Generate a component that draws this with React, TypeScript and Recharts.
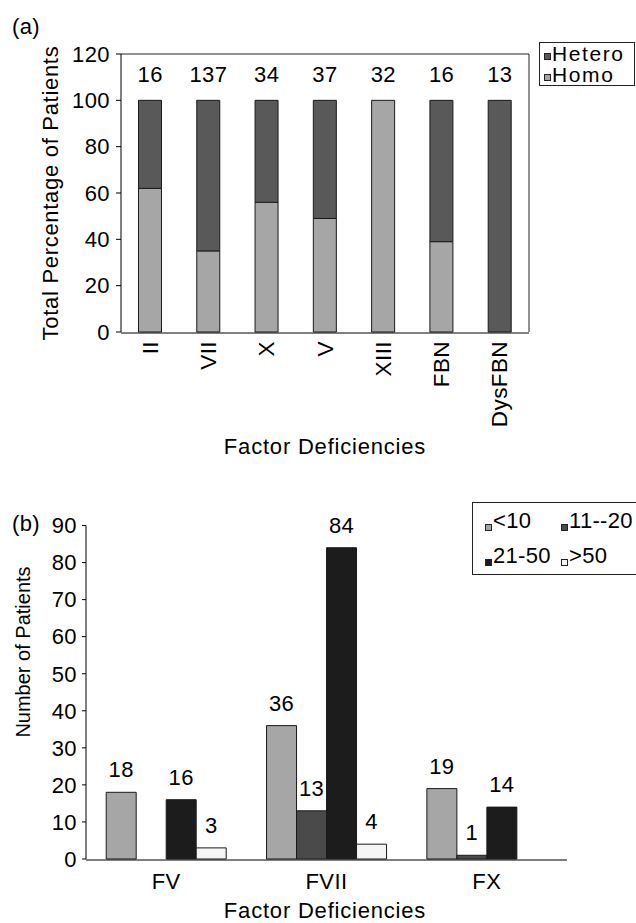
import { ComposedChart, BarChart, Bar, Line, XAxis, YAxis, LabelList } from 'recharts';

const FONT = '"Liberation Sans", Arial, Helvetica, sans-serif';

// (a) zygosity per deficiency, % of patients
const factorsA = ['II', 'VII', 'X', 'V', 'XIII', 'FBN', 'DysFBN'];
const homoPct = [62, 35, 56, 49, 100, 39, 0];
const heteroPct = [38, 65, 44, 51, 0, 61, 100];
const patientCounts = [16, 137, 34, 37, 32, 16, 13];
const pctTicks = [0, 20, 40, 60, 80, 100, 120];

// (b) patients per activity level
const factorsB = ['FV', 'FVII', 'FX'];
const under10 = [18, 36, 19];
const from11to20 = [0, 13, 1];
const from21to50 = [16, 84, 14];
const over50 = [3, 4, 0];
const countTicks = [0, 10, 20, 30, 40, 50, 60, 70, 80, 90];

const C = {
  homo: '#a6a6a6',
  hetero: '#595959',
  lt10: '#a6a6a6',
  r11: '#4a4a4a',
  r21: '#1c1c1c',
  gt50: '#f5f5f5',
  edge: '#1a1a1a',
};

const dataA = factorsA.map((f, i) => ({
  factor: f,
  homo: homoPct[i],
  hetero: heteroPct[i],
  total: homoPct[i] + heteroPct[i],
  count: patientCounts[i],
}));
const dataB = factorsB.map((f, i) => ({
  factor: f, lt10: under10[i], r11: from11to20[i], r21: from21to50[i], gt50: over50[i],
}));

// band edges for the boundary tick marks
const edgesA = factorsA.map((_, i) => i).concat(factorsA.length);
const edgesB = factorsB.map((_, i) => i).concat(factorsB.length);

const legendA = [
  { label: 'Hetero', color: C.hetero },
  { label: 'Homo', color: C.homo },
];
const legendB = [
  [{ label: '<10', color: C.lt10 }, { label: '11--20', color: C.r11 }],
  [{ label: '21-50', color: C.r21 }, { label: '>50', color: C.gt50 }],
];

function RotatedTick(props: any) {
  const { x, y, payload } = props;
  return (
    <text
      x={x} y={y}
      transform={`rotate(-90, ${x}, ${y})`}
      textAnchor="end"
      dominantBaseline="central"
      fontSize={22.5}
      fill="#000"
    >
      {payload.value}
    </text>
  );
}

const hideZero = (v: any) => (Number(v) === 0 ? '' : v);

function Marker({ color, drop }: { color: string; drop: number }) {
  return (
    <span
      style={{
        display: 'inline-block', width: 7, height: 7, boxSizing: 'border-box',
        border: '1px solid #222', background: color, verticalAlign: drop, marginRight: 1,
      }}
    />
  );
}

function Title({ text, cx, cy, size, ls = 0, rotate = false }: any) {
  return (
    <div
      style={{
        position: 'absolute', left: cx, top: cy, fontSize: size, lineHeight: 1,
        letterSpacing: ls, whiteSpace: 'nowrap',
        transform: `translate(-50%, -50%)${rotate ? ' rotate(-90deg)' : ''}`,
      }}
    >
      {text}
    </div>
  );
}

export default function App() {
  return (
    <div
      style={{
        position: 'absolute', left: 0, top: 0, width: 636, height: 923, overflow: 'hidden',
        background: '#fff', color: '#000', fontFamily: FONT, letterSpacing: 0.4,
      }}
    >
      <div style={{ position: 'absolute', left: 12, top: 16, fontSize: 22, lineHeight: 1 }}>(a)</div>
      <Title text="Total Percentage of Patients" cx={51} cy={193} size={22} ls={0.7} rotate />
      <Title text="Factor Deficiencies" cx={325} cy={447} size={22} ls={0.8} />

      <div style={{ position: 'absolute', left: 0, top: 0 }}>
        <ComposedChart
          width={636} height={470} data={dataA}
          margin={{ top: 53, right: 106, bottom: 136, left: 0 }}
          barCategoryGap="30%"
        >
          <XAxis
            xAxisId="edge" type="number" domain={[0, factorsA.length]} ticks={edgesA}
            height={1} tick={false} tickSize={5} stroke="#000" allowDataOverflow
          />
          <XAxis
            xAxisId="cat" dataKey="factor" height={1} interval={0}
            axisLine={false} tickLine={false} tickSize={0} tickMargin={9}
            tick={<RotatedTick />}
          />
          <XAxis
            xAxisId="frame" orientation="top" type="number" domain={[0, factorsA.length]}
            height={1} tick={false} tickLine={false} stroke="#222"
          />
          <YAxis
            yAxisId="pct" domain={[0, 120]} ticks={pctTicks} width={121} interval={0}
            tickSize={5} tickMargin={6} stroke="#000"
            tick={{ fontSize: 22, fill: '#000' }}
          />
          <YAxis
            yAxisId="frame" orientation="right" domain={[0, 120]} width={1}
            tick={false} tickLine={false} stroke="#222"
          />
          <Bar xAxisId="cat" yAxisId="pct" dataKey="homo" stackId="z" fill={C.homo} stroke={C.edge} strokeWidth={1} isAnimationActive={false} />
          <Bar xAxisId="cat" yAxisId="pct" dataKey="hetero" stackId="z" fill={C.hetero} stroke={C.edge} strokeWidth={1} isAnimationActive={false} />
          <Line
            xAxisId="cat" yAxisId="pct" dataKey="total" stroke="none" dot={false}
            activeDot={false} legendType="none" isAnimationActive={false}
          >
            <LabelList dataKey="count" position="top" offset={18} fontSize={22} fill="#000" />
          </Line>
        </ComposedChart>
      </div>

      <div
        style={{
          position: 'absolute', left: 539, top: 42, width: 96, height: 44, boxSizing: 'border-box',
          border: '1px solid #222', paddingLeft: 4, fontSize: 21, lineHeight: '21px', letterSpacing: 1.6,
        }}
      >
        {legendA.map((it) => (
          <div key={it.label} style={{ whiteSpace: 'nowrap' }}>
            <Marker color={it.color} drop={1} />{it.label}
          </div>
        ))}
      </div>

      <div style={{ position: 'absolute', left: 12, top: 513, fontSize: 22, lineHeight: 1 }}>(b)</div>
      <Title text="Number of Patients" cx={23} cy={652} size={20} rotate />
      <Title text="Factor Deficiencies" cx={325} cy={911} size={22} ls={0.8} />

      <div style={{ position: 'absolute', left: 0, top: 480 }}>
        <BarChart
          width={636} height={443} data={dataB}
          margin={{ top: 45.5, right: 69, bottom: 62, left: 0 }}
          barCategoryGap="12.6%" barGap={0}
        >
          <XAxis
            xAxisId="edge" type="number" domain={[0, factorsB.length]} ticks={edgesB}
            height={1} tick={false} tickSize={5} stroke="#000" allowDataOverflow
          />
          <XAxis
            xAxisId="cat" dataKey="factor" height={1} interval={0}
            axisLine={false} tickLine={false} tickSize={0} tickMargin={14}
            tick={{ fontSize: 22, fill: '#000' }}
          />
          <YAxis
            yAxisId="n" domain={[0, 90]} ticks={countTicks} width={86} interval={0}
            tickSize={4} tickMargin={5} stroke="#000"
            tick={{ fontSize: 22, fill: '#000' }}
          />
          {(['lt10', 'r11', 'r21', 'gt50'] as const).map((k) => (
            <Bar key={k} xAxisId="cat" yAxisId="n" dataKey={k} fill={C[k]} stroke={C.edge} strokeWidth={1} isAnimationActive={false}>
              <LabelList dataKey={k} position="top" offset={15} fontSize={22} fill="#000" formatter={hideZero} />
            </Bar>
          ))}
        </BarChart>
      </div>

      <div
        style={{
          position: 'absolute', left: 472, top: 502, width: 170, height: 73, boxSizing: 'border-box',
          border: '1px solid #222', paddingLeft: 12, fontSize: 22, lineHeight: '35px', letterSpacing: 0.3,
        }}
      >
        {legendB.map((row, r) => (
          <div key={r} style={{ display: 'flex', whiteSpace: 'nowrap' }}>
            {row.map((it, j) => (
              <span key={it.label} style={{ width: j === 0 ? 76 : undefined }}>
                <Marker color={it.color} drop={-3} />{it.label}
              </span>
            ))}
          </div>
        ))}
      </div>
    </div>
  );
}
